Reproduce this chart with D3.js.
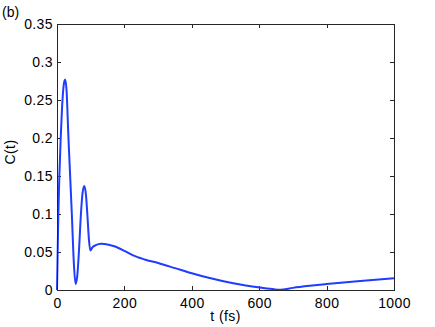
<!DOCTYPE html>
<html><head><meta charset="utf-8">
<script src="https://cdn.jsdelivr.net/npm/d3@7"></script>
<style>
html,body{margin:0;padding:0;background:#fff;}
text{font-family:"Liberation Sans",Arial,Helvetica,sans-serif;}
</style></head>
<body>
<svg id="chart" width="435" height="327"></svg>
<script>
const timeFs = [0,2,4,7,11,15,20,24,28,34,39,44,50,55,60,65,71,76,81,86,90,95,99,105,115,130,142,170,200,226,260,300,350,400,450,523,560,602,640,662,700,750,800,900,1000];
const corrValues = [0,0.05,0.1,0.15,0.2,0.24,0.27,0.277,0.265,0.2,0.15,0.1,0.035,0.008,0.018,0.05,0.1,0.128,0.137,0.125,0.1,0.065,0.052,0.056,0.059,0.061,0.0605,0.0575,0.0515,0.0455,0.0402,0.0355,0.0288,0.022,0.016,0.0088,0.006,0.0033,0.0012,0.0002,0.0028,0.0055,0.0078,0.0118,0.0154];
const xTicks = [0,200,400,600,800,1000];
const yTicks = [0,0.05,0.1,0.15,0.2,0.25,0.3,0.35];
const yTickLabels = ["0","0.05","0.1","0.15","0.2","0.25","0.3","0.35"];

const svg = d3.select("#chart");
const L=57, R=394, T=24, B=290;
const x = d3.scaleLinear().domain([0,1000]).range([L,R]);
const y = d3.scaleLinear().domain([0,0.35]).range([B,T]);
const axisColor="#262626";
const tickLen=4;

svg.append("rect").attr("x",L).attr("y",T).attr("width",R-L).attr("height",B-T)
  .attr("fill","#fff").attr("stroke","none");

svg.append("g").attr("transform",`translate(0,${B})`)
  .call(d3.axisBottom(x).tickValues(xTicks).tickSizeInner(-tickLen).tickSizeOuter(0).tickPadding(8).tickFormat(d3.format("d")));
svg.append("g").attr("transform",`translate(0,${T})`)
  .call(d3.axisTop(x).tickValues(xTicks).tickSizeInner(-tickLen).tickSizeOuter(0).tickFormat(""));
svg.append("g").attr("transform",`translate(${L},0)`)
  .call(d3.axisLeft(y).tickValues(yTicks).tickSizeInner(-tickLen).tickSizeOuter(0).tickPadding(4).tickFormat((d,i)=>yTickLabels[i]));
svg.append("g").attr("transform",`translate(${R},0)`)
  .call(d3.axisRight(y).tickValues(yTicks).tickSizeInner(-tickLen).tickSizeOuter(0).tickFormat(""));

svg.selectAll(".domain").remove();
svg.selectAll(".tick line").attr("stroke",axisColor).attr("shape-rendering","crispEdges");
svg.selectAll(".tick text").attr("fill","#000").attr("font-size","14px").attr("letter-spacing","0.4px")
  .attr("font-family","Liberation Sans, Arial, sans-serif");

const line = d3.line().x((d,i)=>x(timeFs[i])).y(d=>y(d)).curve(d3.curveMonotoneX);
svg.append("path").datum(corrValues).attr("d",line)
  .attr("fill","none").attr("stroke","#1f3cff").attr("stroke-width",2).attr("stroke-linejoin","round");

svg.append("rect").attr("x",L).attr("y",T).attr("width",R-L).attr("height",B-T)
  .attr("fill","none").attr("stroke",axisColor).attr("stroke-width",1).attr("shape-rendering","crispEdges");

svg.append("text").attr("x",(L+R)/2).attr("y",321).attr("text-anchor","middle")
  .attr("font-size","14px").attr("letter-spacing","0.4px").text("t (fs)");
svg.append("text").attr("transform",`translate(15,152) rotate(-90)`).attr("text-anchor","middle")
  .attr("font-size","14px").attr("letter-spacing","0.4px").text("C(t)");
svg.append("text").attr("x",2).attr("y",17).attr("font-size","14px").text("(b)");
</script>
</body></html>
